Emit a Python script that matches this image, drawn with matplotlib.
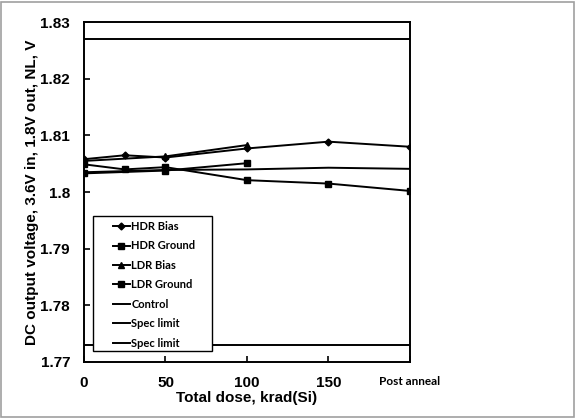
import matplotlib.pyplot as plt
from matplotlib.patches import Rectangle

plt.switch_backend("Agg")

# Data
dose_hdr = [0, 25, 50, 100, 150, 200]
hdr_bias = [1.8058, 1.8065, 1.8061, 1.8077, 1.8089, 1.8080]
hdr_ground = [1.8049, 1.8040, 1.8044, 1.8021, 1.8015, 1.8002]

dose_ldr = [0, 50, 100]
ldr_bias = [1.8055, 1.8063, 1.8083]
ldr_ground = [1.8033, 1.8038, 1.8051]

dose_ctrl = [0, 50, 100, 150, 200]
control = [1.8035, 1.8039, 1.8040, 1.8043, 1.8041]

dose_spec = [0, 200]
spec_hi = [1.827, 1.827]
spec_lo = [1.773, 1.773]

xticks = [0, 50, 100, 150, 200]
xtick_labels = ["0", "50", "100", "150", "Post anneal"]
yticks = [1.77, 1.78, 1.79, 1.80, 1.81, 1.82, 1.83]
ytick_labels = ["1.77", "1.78", "1.79", "1.8", "1.81", "1.82", "1.83"]

fig = plt.figure(figsize=(5.76, 4.18), dpi=100)
fig.patches.append(Rectangle((0.002, 0.003), 0.995, 0.993, transform=fig.transFigure,
                             fill=False, edgecolor="#a0a0a0", linewidth=1.2))
ax = fig.add_axes([0.1458, 0.134, 0.566, 0.813])

lw = 1.4
ax.plot(dose_hdr, hdr_bias, color="black", lw=lw, marker="D", ms=3.5, label="HDR Bias")
ax.plot(dose_hdr, hdr_ground, color="black", lw=lw, marker="s", ms=4.5, label="HDR Ground")
ax.plot(dose_ldr, ldr_bias, color="black", lw=lw, marker="^", ms=4.5, label="LDR Bias")
ax.plot(dose_ldr, ldr_ground, color="black", lw=lw, marker="s", ms=4.5, label="LDR Ground")
ax.plot(dose_ctrl, control, color="black", lw=lw, label="Control")
ax.plot(dose_spec, spec_hi, color="black", lw=lw, label="Spec limit")
ax.plot(dose_spec, spec_lo, color="black", lw=lw, label="Spec limit")

ax.set_xlim(0, 200)
ax.set_ylim(1.77, 1.83)
ax.set_xticks(xticks)
ax.set_yticks(yticks)
ax.set_yticklabels(ytick_labels, fontsize=11, fontweight="bold", family="Liberation Sans")
ax.set_xticklabels(xtick_labels, fontsize=11, fontweight="bold", family="Liberation Sans")
post = ax.get_xticklabels()[-1]
post.set_fontsize(8.5)
post.set_family("Lato")
ax.tick_params(direction="in", length=4, width=1.2)
ax.tick_params(axis="y", pad=10)
ax.tick_params(axis="x", pad=10)

for s in ax.spines.values():
    s.set_linewidth(1.4)

ax.set_xlabel("Total dose, krad(Si)", fontsize=11, fontweight="bold",
              family="Liberation Sans", labelpad=1)
ax.set_ylabel("DC output voltage, 3.6V in, 1.8V out, NL, V", fontsize=11,
              fontweight="bold", family="Liberation Sans", labelpad=1)

# Legend box drawn separately so the padding can match the Excel layout
ax.add_patch(Rectangle((0.0276, 0.032), 0.365, 0.397, transform=ax.transAxes,
                       facecolor="white", edgecolor="black", linewidth=1.0, zorder=5))
leg = ax.legend(loc="upper left", bbox_to_anchor=(0.089, 0.415), frameon=False,
                prop={"family": "Lato", "weight": "bold", "size": 8},
                handlelength=1.5, handletextpad=0.15, labelspacing=0.76,
                borderpad=0, borderaxespad=0)
leg.set_zorder(6)

fig.savefig("out.png", dpi=100)
